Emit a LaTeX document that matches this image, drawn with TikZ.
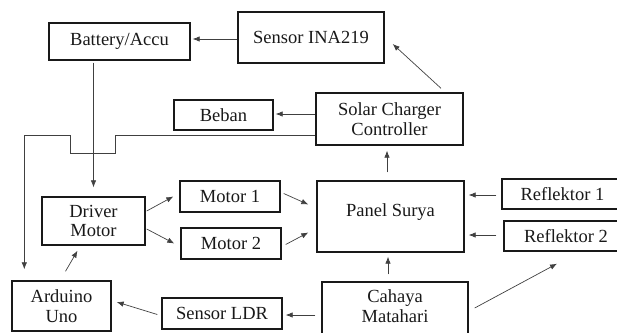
\documentclass[tikz,border=0pt]{standalone}
\usepackage{fontspec}
\setmainfont{Liberation Serif}
\usetikzlibrary{arrows.meta,calc}
\begin{document}
\begin{tikzpicture}[x=1pt,y=-1pt,
  box/.style={draw=black!90,line width=1.4pt,inner sep=0pt,align=center,
    font=\fontsize{18.5}{19.5}\selectfont,text=black!90},
  txt/.style={inner sep=0pt,align=center,font=\fontsize{18.5}{19.5}\selectfont,text=black!90},
  arr/.style={draw=black!75,line width=0.7pt,-{Latex[length=7pt,width=5.5pt]}},
  wire/.style={draw=black!75,line width=0.8pt}]
\useasboundingbox (0,0) rectangle (617,332);
\clip (0,0) rectangle (617,332);
% boxes
\node[box,minimum width=141pt,minimum height=37pt] (bat) at (119.5,41.5) {Battery/Accu};
\node[box,minimum width=146pt,minimum height=51pt] (ina) at (311,37.5) {Sensor INA219};
\node[box,minimum width=99pt,minimum height=30pt] (beban) at (223.5,115) {Beban};
\node[box,minimum width=147pt,minimum height=52pt] (scc) at (389.5,119) {Solar Charger\\Controller};
\node[box,minimum width=103pt,minimum height=48pt] (drv) at (93.5,221) {Driver\\Motor};
\node[box,minimum width=100pt,minimum height=31pt] (m1) at (230,196.5) {Motor 1};
\node[box,minimum width=100pt,minimum height=31pt] (m2) at (231,243.5) {Motor 2};
\node[box,minimum width=147pt,minimum height=71pt] (panel) at (390.5,216.5) {};
\node[txt] (paneltxt) at (390.5,212) {Panel Surya};
\node[box,minimum width=121pt,minimum height=30pt] (r1) at (562.5,194) {Reflektor 1};
\node[box,minimum width=124pt,minimum height=30pt] (r2) at (566,236) {Reflektor 2};
\node[box,minimum width=146pt,minimum height=60pt] (cah) at (395,312) {};
\node[txt] (cahtxt) at (395,306) {Cahaya\\Matahari};
\node[box,minimum width=99pt,minimum height=50pt] (ard) at (61.5,306) {Arduino\\Uno};
\node[box,minimum width=120pt,minimum height=31pt] (ldr) at (222,313.5) {Sensor LDR};
% connectors
\draw[arr] ($(ina.west)+(0,1.5)$) -- ($(bat.east)+(2,-2.5)$);
\draw[arr] ($(scc.north)+(51.5,-4)$) -- ($(ina.east)+(8,6.5)$);
\draw[arr] ($(scc.west)+(0,-5)$) -- ($(beban.east)+(2,-1)$);
\draw[arr] ($(panel.north)+(-3.5,-8)$) -- ($(scc.south)+(-2.5,5)$);
\coordinate (w0) at ($(scc.west)+(0,16)$);
\coordinate (w1) at ($(w0)+(-200,0)$);
\coordinate (w2) at ($(w1)+(0,18)$);
\coordinate (w3) at ($(w2)+(-45,0)$);
\coordinate (w4) at ($(w3)+(0,-18)$);
\coordinate (w5) at ($(w4)+(-46,0)$);
\draw[wire] (w0) -- (w1) -- (w2) -- (w3) -- (w4) -- (w5);
\draw[arr] (w5) -- ($(w5 |- ard.north)+(0,-11)$);
\draw[arr] ($(drv.north |- bat.south)+(0,2)$) -- ($(drv.north)+(0,-9)$);
\draw[arr] ($(drv.east)+(1,-10)$) -- ($(m1.west)+(-6,0)$);
\draw[arr] ($(drv.east)+(1,8)$) -- ($(m2.west)+(-6,0)$);
\draw[arr] ($(m1.east)+(3,-3)$) -- ($(panel.west)+(-8,-12)$);
\draw[arr] ($(m2.east)+(4,1)$) -- ($(panel.west)+(-8,16)$);
\draw[arr] ($(ard.north)+(4,-9)$) -- ($(drv.south)+(-16,5)$);
\draw[arr] ($(ldr.west)+(-4,1)$) -- ($(ard.east)+(5,-4)$);
\draw[arr] ($(cah.west)+(-6,3)$) -- ($(ldr.east)+(3,1.5)$);
\draw[arr] ($(cah.north)+(-7,-7)$) -- ($(panel.south)+(-2.5,4)$);
\draw[arr] ($(cah.east)+(6,-4)$) -- ($(r2.south)+(-9,12)$);
\draw[arr] ($(r1.west)+(-5,1)$) -- ($(panel.east)+(4,-21.5)$);
\draw[arr] ($(r2.west)+(-7,-1)$) -- ($(panel.east)+(4,18.5)$);
\end{tikzpicture}
\end{document}
